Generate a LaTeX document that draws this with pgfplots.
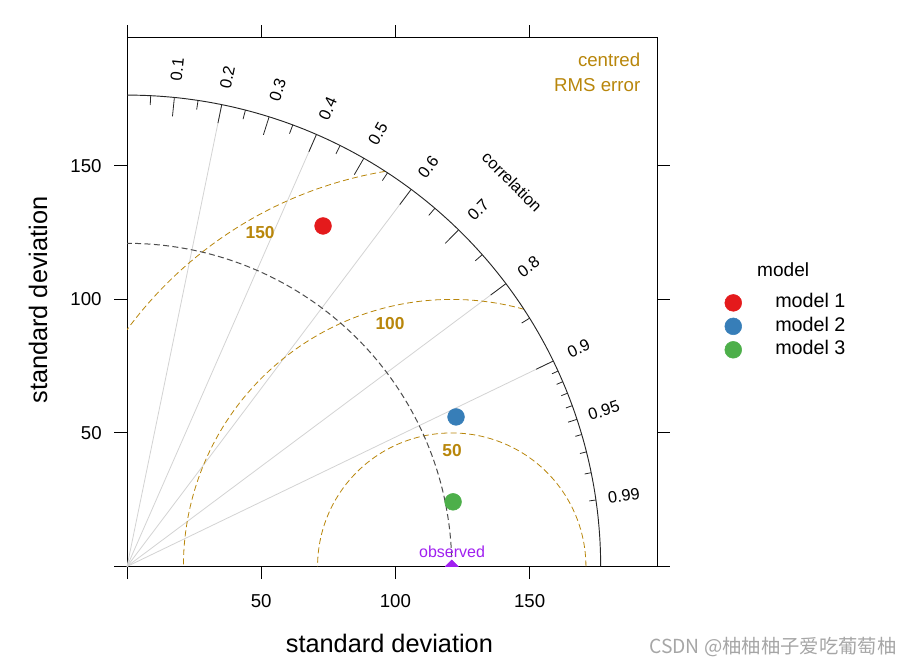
\documentclass[border=0pt]{standalone}
\usepackage{pgfplots}
\pgfplotsset{compat=1.18}
\usepackage{fontspec}
\setmainfont{Liberation Sans}
\newfontfamily\cjk{Noto Sans CJK SC}

\definecolor{rmsgold}{HTML}{B8860B}
\definecolor{mred}{HTML}{E41A1C}
\definecolor{mblue}{HTML}{377EB8}
\definecolor{mgreen}{HTML}{4DAF4A}
\definecolor{obscol}{HTML}{A020F0}
\definecolor{gridgrey}{HTML}{D3D3D3}

% model points: x = sd*cor, y = sd*sqrt(1-cor^2)
\pgfplotstableread{
x      y
73.05  127.5
}\modelA
\pgfplotstableread{
x      y
122.6  56.0
}\modelB
\pgfplotstableread{
x      y
121.5  24.2
}\modelC

\begin{document}
\begin{tikzpicture}
\begin{axis}[
  width=397.5pt, height=396.4pt, scale only axis,
  xmin=0, xmax=197.5, ymin=0, ymax=197.9,
  xtick={0,50,100,150}, ytick={0,50,100,150},
  xticklabels={,50,100,150}, yticklabels={,50,100,150},
  tick align=outside, major tick length=9.5pt,
  tick style={black, line width=0.75pt},
  axis line style={line width=0.75pt},
  tick label style={font=\fontsize{14}{16}\selectfont},
  xticklabel style={yshift=-8pt},
  yticklabel style={xshift=-6pt},
  /pgf/number format/assume math mode=true,
  xlabel={standard deviation}, ylabel={standard deviation},
  every axis x label/.style={at={(rel axis cs:0.495,-0.145)}, anchor=center,
    font=\fontsize{19}{22}\selectfont},
  every axis y label/.style={at={(rel axis cs:-0.168,0.504)}, anchor=center, rotate=90,
    font=\fontsize{19}{22}\selectfont},
  clip mode=individual, clip marker paths=true,
  legend cell align=left,
  legend style={at={(axis cs:222.67,103.09)}, anchor=north west,
    draw=none, fill=none, inner sep=0pt, outer sep=0pt, row sep=0pt,
    font=\fontsize{14.8}{17}\selectfont,
    nodes={inner sep=1.8pt, text height=10.5pt, text depth=3pt}},
  legend image code/.code={
    \path[draw=none, fill=none] (-6.5pt,-8.8pt) rectangle (29.7pt,8.8pt);
    \draw[#1] plot coordinates {(0pt,0pt)};
  },
]
% correlation grid lines
\pgfplotsinvokeforeach{0.2,0.4,0.6,0.8,0.9}{
  \draw[gridgrey, line width=0.6pt] (axis cs:0,0) -- (axis cs:{176.5*#1},{176.5*sqrt(1-#1^2)});
}
% centred RMS error contours
\addplot[rmsgold, dash pattern=on 4.5pt off 2.5pt, line width=0.6pt, domain=0:180, samples=90, forget plot]
  ({121+50*cos(x)},{50*sin(x)});
\addplot[rmsgold, dash pattern=on 4.5pt off 2.5pt, line width=0.6pt, domain=74.4:180, samples=90, forget plot]
  ({121+100*cos(x)},{100*sin(x)});
\addplot[rmsgold, dash pattern=on 4.5pt off 2.5pt, line width=0.6pt, domain=99.5:143.77, samples=60, forget plot]
  ({121+150*cos(x)},{150*sin(x)});
% observed sd arc
\addplot[black!70, dash pattern=on 4.5pt off 2.5pt, line width=0.75pt, domain=0:90, samples=90, forget plot]
  ({121*cos(x)},{121*sin(x)});
% outer arc
\addplot[black!85, line width=0.7pt, domain=0:90, samples=120, forget plot]
  ({176.5*cos(x)},{176.5*sin(x)});
% correlation ticks
\pgfplotsinvokeforeach{0.1,0.2,0.3,0.4,0.5,0.6,0.7,0.8,0.9}{
  \draw[black!85, line width=0.6pt] (axis cs:{176.5*#1},{176.5*sqrt(1-#1^2)}) -- (axis cs:{169.4*#1},{169.4*sqrt(1-#1^2)});
}
\pgfplotsinvokeforeach{0.05,0.15,0.25,0.35,0.45,0.55,0.65,0.75,0.85,0.95}{
  \draw[black!85, line width=0.6pt] (axis cs:{176.5*#1},{176.5*sqrt(1-#1^2)}) -- (axis cs:{173*#1},{173*sqrt(1-#1^2)});
}
\pgfplotsinvokeforeach{0.91,0.92,0.93,0.94,0.96,0.97,0.98,0.99}{
  \draw[black!85, line width=0.6pt] (axis cs:{176.5*#1},{176.5*sqrt(1-#1^2)}) -- (axis cs:{174*#1},{174*sqrt(1-#1^2)});
}
\pgfplotsinvokeforeach{0.1,0.2,0.3,0.4,0.5,0.6,0.7,0.8,0.9,0.95,0.99}{
  \node[rotate={acos(#1)}, font=\fontsize{12.3}{14}\selectfont] at (axis cs:{187*#1},{187*sqrt(1-#1^2)}) {#1};
}
\node[rotate=-45, font=\fontsize{12.3}{14}\selectfont] at (axis cs:143.5,144) {correlation};
% contour labels
\node[text=rmsgold, font=\bfseries\fontsize{13}{15}\selectfont] at (axis cs:49.6,124.9) {150};
\node[text=rmsgold, font=\bfseries\fontsize{13}{15}\selectfont] at (axis cs:98,90.8) {100};
\node[text=rmsgold, font=\bfseries\fontsize{13}{15}\selectfont] at (axis cs:121.1,43.3) {50};
\node[text=rmsgold, anchor=east, font=\fontsize{14}{16}\selectfont] at (axis cs:193,189.7) {centred};
\node[text=rmsgold, anchor=east, font=\fontsize{14}{16}\selectfont] at (axis cs:193,180.3) {RMS error};
% observed
\addplot[only marks, mark=square*, mark size=3.5pt, mark options={rotate=45}, color=obscol, forget plot]
  coordinates {(121,0)};
\node[text=obscol, font=\fontsize{12}{14}\selectfont] at (axis cs:121.1,5.6) {observed};
% models
\addplot[only marks, mark=*, mark size=6.3pt, color=mred] table[x=x, y=y] {\modelA};
\addlegendentry{model 1}
\addplot[only marks, mark=*, mark size=6.3pt, color=mblue] table[x=x, y=y] {\modelB};
\addlegendentry{model 2}
\addplot[only marks, mark=*, mark size=6.3pt, color=mgreen] table[x=x, y=y] {\modelC};
\addlegendentry{model 3}
\node[font=\fontsize{14.3}{16}\selectfont] at (axis cs:244.5,111) {model};
\node[text=black!35, anchor=east, font=\cjk\fontsize{14.5}{16}\selectfont] at (axis cs:288.5,-30.1) {CSDN @柚柚柚子爱吃葡萄柚};
\coordinate (bbl) at (axis cs:-47.33,-36.9);
\coordinate (btr) at (axis cs:292.5,212.1);
\end{axis}
\pgfresetboundingbox
\useasboundingbox (bbl) rectangle (btr);
\end{tikzpicture}
\end{document}
